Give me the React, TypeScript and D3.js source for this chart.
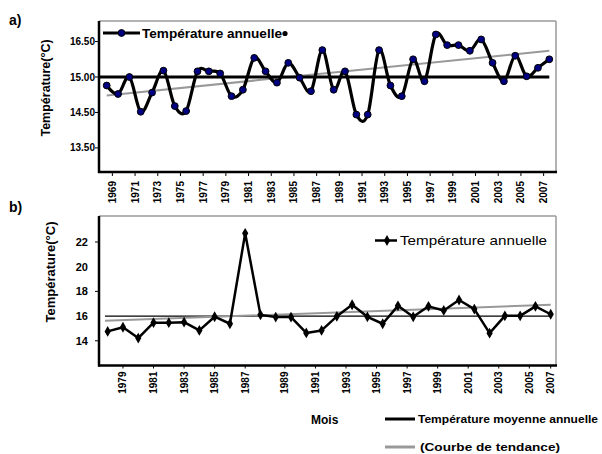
import React from "react";
import * as d3 from "d3";

// ---------- Chart a) data ----------
const yearsA = [1968,1969,1970,1971,1972,1973,1974,1975,1976,1977,1978,1979,1980,1981,1982,1983,1984,1985,1986,1987,1988,1989,1990,1991,1992,1993,1994,1995,1996,1997,1998,1999,2000,2001,2002,2003,2004,2005,2006,2007];
const tempA = [14.88,14.76,15.00,14.51,14.78,15.09,14.59,14.52,15.08,15.08,15.05,14.73,14.82,15.27,15.08,14.92,15.20,14.99,14.80,15.38,14.82,15.08,14.47,14.47,15.38,14.88,14.73,15.25,14.94,15.60,15.45,15.45,15.37,15.53,15.20,14.94,15.30,15.01,15.13,15.25];
const meanA = 15.0;
const trendA = [14.74, 15.37];
const yTicksA = [15.5, 15.0, 14.5, 14.0];
const yTickLabelsA = ["16.50", "15.00", "14.50", "13.50"];
const xLabelYearsA = [1969,1971,1973,1975,1977,1979,1981,1983,1985,1987,1989,1991,1993,1995,1997,1999,2001,2003,2005,2007];

// ---------- Chart b) data ----------
const yearsB = [1978,1979,1980,1981,1982,1983,1984,1985,1986,1987,1988,1989,1990,1991,1992,1993,1994,1995,1996,1997,1998,1999,2000,2001,2002,2003,2004,2005,2006,2007];
const tempB = [14.76,15.1,14.22,15.47,15.47,15.51,14.84,15.95,15.38,22.7,16.1,15.92,15.92,14.64,14.84,15.98,16.92,15.94,15.38,16.83,15.94,16.79,16.46,17.3,16.57,14.62,16.02,16.02,16.79,16.15];
const meanB = 16.0;
const trendB = [15.62, 16.92];
const yTicksB = [22, 20, 18, 16, 14];
const yMajorTicksB = [22, 18, 14];
const xLabelYearsB = [1979,1981,1983,1985,1987,1989,1991,1993,1995,1997,1999,2001,2003,2005,2007];

const FONT = "'Liberation Sans', Arial, sans-serif";

export default function App() {
  // chart a geometry
  const aL = 99, aR = 556, aT = 21, aB = 172;
  const xA = d3.scalePoint<number>().domain(yearsA).range([106.7, 549.3]);
  const yA = d3.scaleLinear().domain([13.66, 15.79]).range([aB, aT]);
  const stepA = xA.step();
  const lineA = d3.line<number>()
    .x((_, i) => xA(yearsA[i]) as number)
    .y((d) => yA(d))
    .curve(d3.curveCardinal.tension(0));

  // chart b geometry
  const bL = 99, bR = 556, bT = 216, bB = 365.5;
  const xB = d3.scalePoint<number>().domain(yearsB).range([107.7, 550.7]);
  const yB = d3.scaleLinear().domain([12, 24]).range([bB, bT + 1.3]);
  const stepB = xB.step();
  const lineB = d3.line<number>()
    .x((_, i) => xB(yearsB[i]) as number)
    .y((d) => yB(d));
  const diamond = d3.symbol().type(d3.symbolDiamond).size(34)() as string;

  const labelXB = (yr: number) =>
    (xB(yr) as number) + (yr > 1987 && yr < 2007 ? stepB * 0.6 : 0);

  return (
    <svg width={602} height={454} style={{ position: "absolute", left: 0, top: 0, background: "#fff" }} fontFamily={FONT}>
      <rect x={0} y={0} width={602} height={454} fill="#fff" />

      {/* ================= Chart a ================= */}
      <text x={9} y={25} fontSize={14} fontWeight="bold">a)</text>
      <text transform={`translate(50,88) rotate(-90)`} textAnchor="middle" fontSize={12.5} fontWeight="bold">Température(°C)</text>

      {/* frame */}
      <line x1={aL} y1={aT} x2={aR} y2={aT} stroke="#9a9a9a" strokeWidth={1.5} />
      <line x1={aR} y1={aT} x2={aR} y2={aB} stroke="#9a9a9a" strokeWidth={1.5} />

      {/* y ticks */}
      {yTicksA.map((t, i) => (
        <g key={"ya" + i}>
          <line x1={aL - 4} x2={aL} y1={yA(t)} y2={yA(t)} stroke="#000" strokeWidth={1} />
          <text x={aL - 4} y={yA(t)} dy="0.35em" textAnchor="end" fontSize={10} fontWeight="bold">{yTickLabelsA[i]}</text>
        </g>
      ))}

      {/* x ticks & labels */}
      {xLabelYearsA.map((yr) => {
        const x = (xA(yr) as number) - stepA / 2;
        return (
          <g key={"xa" + yr}>
            <line x1={x} x2={x} y1={aB} y2={aB + 4} stroke="#000" strokeWidth={1} />
            <text transform={`translate(${x},${aB + 9}) rotate(-90)`} dy="0.35em" textAnchor="end" fontSize={10} fontWeight="bold">{yr}</text>
          </g>
        );
      })}

      {/* trend */}
      <line x1={xA(yearsA[0])} x2={xA(yearsA[yearsA.length - 1])} y1={yA(trendA[0])} y2={yA(trendA[1])} stroke="#999" strokeWidth={2} />
      {/* mean */}
      <line x1={aL} x2={xA(yearsA[yearsA.length - 1])} y1={yA(meanA)} y2={yA(meanA)} stroke="#000" strokeWidth={3} />
      {/* data */}
      <path d={lineA(tempA) as string} fill="none" stroke="#000" strokeWidth={3.2} />
      {tempA.map((v, i) => (
        <circle key={"pa" + i} cx={xA(yearsA[i])} cy={yA(v)} r={3.4} fill="#000080" stroke="#000" strokeWidth={1} />
      ))}

      {/* axes */}
      <line x1={aL} y1={aT} x2={aL} y2={aB + 1} stroke="#000" strokeWidth={2.5} />
      <line x1={aL - 1} y1={aB} x2={aR + 1} y2={aB} stroke="#000" strokeWidth={2.5} />

      {/* legend a */}
      <line x1={103} x2={140} y1={33} y2={33} stroke="#000" strokeWidth={3} />
      <circle cx={121.5} cy={33} r={3.4} fill="#000080" stroke="#000" strokeWidth={1} />
      <text x={142} y={37.5} fontSize={12} fontWeight="bold" textLength={140} lengthAdjust="spacingAndGlyphs">Température annuelle</text>
      <circle cx={285} cy={33.5} r={2.6} fill="#000" />

      {/* ================= Chart b ================= */}
      <text x={9} y={212} fontSize={14} fontWeight="bold">b)</text>
      <text transform={`translate(55,272) rotate(-90)`} textAnchor="middle" fontSize={13} fontWeight="bold">Température(°C)</text>

      <line x1={bL} y1={bT} x2={bR} y2={bT} stroke="#9a9a9a" strokeWidth={1.5} />
      <line x1={bR} y1={bT} x2={bR} y2={bB} stroke="#9a9a9a" strokeWidth={1.5} />

      {yTicksB.map((t) => (
        <text key={"ybl" + t} x={88} y={yB(t)} dy="0.35em" textAnchor="end" fontSize={11} fontWeight="bold">{t}</text>
      ))}
      {yMajorTicksB.map((t) => (
        <line key={"ybt" + t} x1={bL - 4} x2={bL} y1={yB(t)} y2={yB(t)} stroke="#000" strokeWidth={1} />
      ))}

      {xLabelYearsB.map((yr) => {
        const x = labelXB(yr);
        return (
          <g key={"xb" + yr}>
            <line x1={x} x2={x} y1={bB} y2={bB + 3} stroke="#000" strokeWidth={1} />
            <text transform={`translate(${x},${bB + 6}) rotate(-90)`} dy="0.35em" textAnchor="end" fontSize={10} fontWeight="bold">{yr}</text>
          </g>
        );
      })}

      {/* mean b */}
      <line x1={105} x2={551.7} y1={yB(meanB)} y2={yB(meanB)} stroke="#000" strokeWidth={1.2} />
      {/* trend b */}
      <line x1={105} x2={xB(yearsB[yearsB.length - 1])} y1={yB(trendB[0])} y2={yB(trendB[1])} stroke="#999" strokeWidth={2} />
      {/* data b */}
      <path d={lineB(tempB) as string} fill="none" stroke="#000" strokeWidth={2.5} strokeLinejoin="round" />
      {tempB.map((v, i) => (
        <path key={"pb" + i} d={diamond} transform={`translate(${xB(yearsB[i])},${yB(v)})`} fill="#000" />
      ))}

      <line x1={bL} y1={bT} x2={bL} y2={bB + 1} stroke="#000" strokeWidth={2.5} />
      <line x1={bL - 1} y1={bB} x2={bR + 1} y2={bB} stroke="#000" strokeWidth={2.5} />

      {/* legend b */}
      <line x1={375} x2={397} y1={240.5} y2={240.5} stroke="#000" strokeWidth={2.5} />
      <path d={diamond} transform="translate(387,240.5)" fill="#000" />
      <text x={400} y={245} fontSize={13} textLength={147} lengthAdjust="spacingAndGlyphs">Température annuelle</text>

      {/* bottom legend */}
      <text x={311} y={424} fontSize={12} fontWeight="bold">Mois</text>
      <line x1={385} x2={415} y1={419} y2={419} stroke="#000" strokeWidth={3} />
      <text x={418} y={423} fontSize={11} fontWeight="bold" textLength={180} lengthAdjust="spacingAndGlyphs">Température moyenne annuelle</text>
      <line x1={385} x2={415} y1={447} y2={447} stroke="#999" strokeWidth={3} />
      <text x={420} y={451} fontSize={11} fontWeight="bold" textLength={140} lengthAdjust="spacingAndGlyphs">(Courbe de tendance)</text>
    </svg>
  );
}
